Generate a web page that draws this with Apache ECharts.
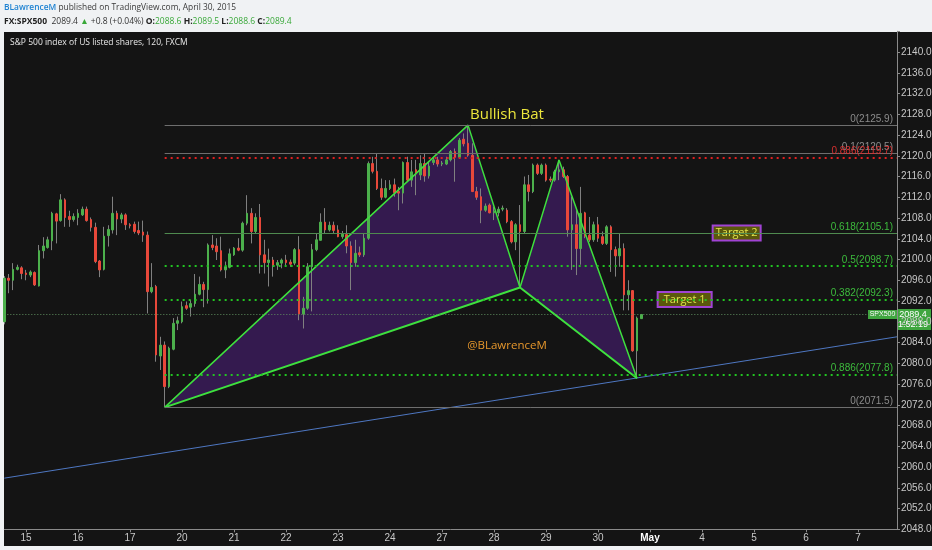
<!DOCTYPE html>
<html><head><meta charset="utf-8">
<script src="https://cdn.jsdelivr.net/npm/echarts@6/dist/echarts.min.js"></script>
<style>html,body{margin:0;padding:0;background:#f0f2f4;}#c{width:932px;height:550px;}</style>
</head><body><div id="c"></div>
<script>
// ---- data (2-hour bars, FX:SPX500) ----
const opens = [2088.0,2096.4,2096.0,2098.1,2098.4,2097.4,2097.0,2097.5,2094.9,2101.7,
2102.3,2103.6,2108.8,2107.5,2111.5,2108.3,2107.7,2108.1,2108.6,2109.7,
2107.7,2106.2,2099.7,2098.1,2104.6,2105.7,2108.9,2107.8,2108.6,2106.7,
2106.8,2105.6,2105.3,2104.7,2093.8,2094.8,2081.4,2083.5,2075.5,2082.7,
2087.7,2088.0,2091.1,2090.8,2091.5,2093.3,2095.2,2094.2,2102.8,2102.6,
2101.7,2098.0,2098.5,2100.9,2102.2,2101.8,2107.0,2108.9,2105.4,2108.1,
2100.9,2099.4,2099.9,2098.9,2099.3,2099.9,2099.5,2099.3,2101.9,2089.5,
2090.6,2098.6,2101.9,2103.7,2107.2,2105.7,2106.6,2105.7,2104.4,2104.8,
2102.6,2099.4,2101.3,2100.9,2104.1,2118.5,2117.0,2113.7,2112.0,2113.7,
2114.4,2113.1,2112.8,2118.7,2115.3,2117.3,2116.3,2118.5,2116.1,2118.7,
2119.2,2118.4,2118.4,2119.2,2120.8,2119.7,2123.2,2122.4,2120.1,2113.1,
2112.1,2109.5,2110.5,2109.0,2109.0,2109.7,2109.5,2107.3,2103.4,2106.7,
2105.4,2114.4,2113.1,2118.2,2116.6,2118.2,2115.5,2115.3,2116.9,2117.3,
2116.0,2105.7,2106.7,2102.1,2109.0,2104.7,2103.8,2106.7,2104.4,2103.1,
2106.3,2101.9,2100.7,2102.1,2093.2,2094.0,2082.4,2088.6];
const highs = [2096.8,2097.2,2099.3,2099.0,2098.7,2098.0,2097.9,2097.7,2102.8,2104.3,
2104.4,2109.2,2109.0,2112.6,2111.8,2109.4,2108.9,2109.7,2110.2,2110.2,
2108.1,2107.1,2099.9,2106.3,2106.6,2112.1,2109.4,2109.0,2108.9,2107.0,
2107.3,2107.3,2107.5,2105.4,2099.3,2095.1,2085.1,2084.2,2083.2,2088.7,
2089.0,2091.9,2091.9,2092.2,2097.2,2096.7,2095.7,2103.1,2104.7,2104.1,
2104.4,2099.6,2102.1,2102.4,2104.1,2107.3,2112.4,2109.9,2108.9,2110.7,
2103.8,2102.1,2100.5,2099.9,2100.2,2100.9,2100.0,2102.2,2104.5,2092.8,
2099.3,2103.0,2105.0,2108.9,2109.9,2107.3,2107.3,2106.6,2105.5,2106.6,
2103.5,2103.8,2102.5,2105.0,2118.9,2119.8,2120.5,2115.6,2115.3,2115.3,
2115.6,2114.0,2118.9,2119.8,2119.2,2119.2,2120.1,2120.5,2118.9,2119.8,
2119.8,2119.0,2119.8,2121.1,2121.4,2123.4,2124.3,2125.9,2122.4,2114.0,
2113.7,2110.8,2110.8,2110.2,2110.2,2110.4,2109.9,2107.6,2107.0,2110.5,
2116.0,2116.3,2118.5,2118.5,2118.5,2118.5,2116.0,2117.3,2119.2,2117.9,
2116.3,2112.1,2109.5,2114.0,2109.2,2108.2,2107.3,2108.2,2105.4,2106.6,
2106.6,2102.5,2105.0,2103.1,2096.0,2094.1,2089.0,2089.5];
const lows = [2087.5,2093.5,2094.1,2097.9,2096.2,2096.0,2096.6,2094.9,2094.8,2100.2,
2102.1,2101.8,2103.1,2107.3,2106.3,2106.3,2107.3,2106.6,2108.4,2107.3,
2105.4,2099.3,2096.6,2097.9,2102.5,2105.0,2104.7,2107.0,2105.7,2106.0,
2105.0,2104.7,2103.4,2089.6,2093.5,2080.3,2078.7,2071.6,2075.2,2082.5,
2086.4,2087.7,2090.3,2089.0,2090.9,2093.1,2090.8,2091.5,2101.8,2099.9,
2097.7,2096.4,2098.3,2100.7,2101.6,2101.5,2106.6,2103.1,2105.0,2097.3,
2097.3,2094.8,2096.7,2098.0,2098.3,2098.9,2098.6,2098.9,2088.3,2086.7,
2090.3,2090.0,2101.6,2103.7,2105.0,2105.4,2105.0,2104.3,2104.0,2101.2,
2094.1,2098.6,2100.5,2100.5,2103.8,2116.6,2113.4,2111.5,2111.8,2113.4,
2112.1,2109.5,2110.8,2115.0,2114.0,2112.4,2115.3,2115.0,2115.6,2118.2,
2117.9,2118.0,2118.2,2118.9,2115.0,2119.5,2121.8,2119.8,2113.0,2111.5,
2107.0,2109.2,2108.9,2107.6,2108.3,2109.3,2107.0,2103.1,2101.8,2094.6,
2105.0,2111.2,2112.8,2116.3,2116.3,2115.0,2114.9,2115.0,2115.3,2115.7,
2104.4,2098.0,2097.0,2099.0,2104.1,2103.4,2103.4,2103.4,2102.8,2102.8,
2097.6,2096.7,2098.6,2090.2,2090.2,2082.2,2077.1,2088.6];
const closes = [2096.4,2096.0,2098.1,2098.5,2097.3,2097.1,2097.6,2095.1,2101.7,2102.6,
2103.8,2108.9,2107.4,2111.5,2108.1,2107.7,2108.3,2108.9,2109.7,2107.5,
2106.2,2099.6,2098.0,2104.5,2105.8,2108.9,2107.8,2108.6,2106.7,2106.5,
2105.4,2105.1,2104.7,2093.8,2094.6,2081.6,2083.5,2075.5,2082.9,2087.7,
2088.2,2090.9,2090.6,2091.5,2093.3,2095.2,2094.2,2102.8,2102.3,2101.5,
2098.0,2098.6,2101.1,2102.2,2101.8,2107.0,2108.9,2105.4,2108.1,2100.9,
2099.4,2099.9,2098.9,2099.4,2099.9,2099.4,2099.1,2101.9,2089.5,2090.6,
2098.6,2101.9,2103.8,2107.2,2105.7,2106.6,2105.6,2104.4,2104.9,2102.6,
2099.4,2101.2,2100.9,2104.1,2118.5,2117.0,2113.7,2112.0,2113.7,2114.4,
2112.9,2112.8,2118.7,2115.3,2116.9,2116.5,2118.5,2116.1,2118.0,2119.2,
2118.4,2118.6,2119.2,2120.8,2119.7,2123.0,2122.3,2120.1,2113.1,2112.0,
2109.5,2110.3,2109.0,2109.3,2109.7,2109.9,2107.3,2103.4,2106.7,2105.4,
2114.4,2113.1,2118.2,2116.6,2118.2,2115.3,2115.3,2116.9,2117.3,2116.0,
2105.7,2106.7,2102.1,2108.9,2104.5,2103.8,2106.7,2104.1,2103.1,2106.3,
2101.9,2100.7,2102.1,2093.2,2094.0,2082.4,2088.7,2089.4];

const totalBars = 207;               // visible bar slots, incl. empty future
const dayLabels = ['15','16','17','20','21','22','23','24','27','28','29','30','May','4','5','6','7'];
const dayStartBars = [5,17,29,41,53,65,77,89,101,113,125,137,149,161,173,185,197];

const patternBars = [37,107,119,128,146];            // X A B C D
const patternPrices = [2071.5,2125.9,2094.6,2119.2,2077.1];
const triangles = [[0,1,2],[2,3,4]];

const fibPrices = [2125.9,2120.5,2119.7,2105.1,2098.7,2092.3,2077.8,2071.5];
const fibNames = ['0(2125.9)','0.1(2120.5)','0.886(2119.7)','0.618(2105.1)','0.5(2098.7)','0.382(2092.3)','0.886(2077.8)','0(2071.5)'];
const fibKinds = ['gray','gray','red','solidGreen','dotGreen','dotGreen','dotGreen','gray'];

const trendBars = [0, 206];
const trendPrices = [2057.85, 2085.1];
const lastPrice = 2089.4;

// ---- build ----
const kindStyle = {
  gray: {line:{color:'#6e6e6e',width:1,type:'solid'}, text:'#8c8c8c'},
  red: {line:{color:'#e02020',width:2,type:[2,4]}, text:'#d83030'},
  solidGreen: {line:{color:'#4f8a4f',width:1,type:'solid'}, text:'#3dbb3d'},
  dotGreen: {line:{color:'#22c422',width:2,type:[2,4]}, text:'#3dbb3d'}
};
const cats = Array.from({length: totalBars}, (_, i) => 'b' + i);
const labelAt = {};
dayStartBars.forEach((b, k) => { labelAt[b] = dayLabels[k]; });
const isDay = (i) => labelAt[i] !== undefined;
const wickData = opens.map((o, i) => [o, closes[i], lows[i], highs[i]]);
const bodyData = opens.map((o, i) => [o, closes[i], Math.min(o, closes[i]), Math.max(o, closes[i])]);

const fibMarks = fibPrices.map((p, k) => {
  const s = kindStyle[fibKinds[k]];
  return [
    {coord: [patternBars[0], p], lineStyle: s.line,
     label: {show: true, position: 'insideEndTop', distance: [4, 1], formatter: fibNames[k],
             color: s.text, fontSize: 10, fontFamily: 'Liberation Sans, Arial'}},
    {coord: [totalBars - 1, p]}
  ];
});

const chart = echarts.init(document.getElementById('c'), null, {width: 932, height: 550});
const option = {
  animation: false,
  backgroundColor: '#f0f2f4',
  grid: {left: 4.33, right: 35, top: 31.25, bottom: 20.75, outerBoundsMode: 'none'},
  xAxis: {
    type: 'category', boundaryGap: false, data: cats,
    axisLine: {lineStyle: {color: '#8a8a8a'}},
    axisTick: {interval: (i) => isDay(i), length: 3, lineStyle: {color: '#8a8a8a'}},
    axisLabel: {interval: (i) => isDay(i), margin: 4, color: '#c8c8c8', fontSize: 10,
      fontFamily: 'Liberation Sans, Arial',
      formatter: (v, i) => { const t = labelAt[i] || ''; return t === 'May' ? '{m|May}' : t; },
      rich: {m: {color: '#ffffff', fontWeight: 'bold', fontSize: 10, fontFamily: 'Liberation Sans, Arial'}}},
    splitLine: {show: false}
  },
  yAxis: {
    type: 'value', position: 'right', min: 2048, max: 2144, interval: 4,
    axisLine: {show: true, lineStyle: {color: '#8a8a8a'}},
    axisTick: {show: true, length: 3, lineStyle: {color: '#8a8a8a'}},
    axisLabel: {margin: 4, color: '#c8c8c8', fontSize: 10, fontFamily: 'Liberation Sans, Arial',
      formatter: (v) => v >= 2144 ? '' : v.toFixed(1)},
    splitLine: {show: false}
  },
  series: [
    {type: 'custom', name: 'pattern fill', z: 1, silent: true,
     data: triangles.map(t => [patternBars[t[0]], patternPrices[t[0]]]),
     renderItem: (params, api) => {
       const tri = triangles[params.dataIndex];
       const pts = tri.map(k => api.coord([patternBars[k], patternPrices[k]]));
       return {type: 'polygon', shape: {points: pts}, style: {fill: '#341a4f'}};
     }},
    {type: 'candlestick', name: 'wicks', z: 2, silent: true, barWidth: 1, data: wickData,
     itemStyle: {color: '#808080', color0: '#808080', borderColor: '#808080', borderColor0: '#808080', borderWidth: 1}},
    {type: 'candlestick', name: 'SPX500', z: 2, silent: true, barWidth: 2.4, data: bodyData,
     itemStyle: {color: '#4cb04c', color0: '#e8483a', borderColor: '#4cb04c', borderColor0: '#e8483a', borderWidth: 1}},
    {type: 'line', name: 'trend', z: 3, silent: true, symbol: 'none',
     data: trendBars.map((b, k) => [b, trendPrices[k]]),
     lineStyle: {color: '#4e77c2', width: 1},
     markLine: {silent: true, symbol: ['none', 'none'], animation: false,
       data: fibMarks.concat([{yAxis: lastPrice, lineStyle: {color: '#5f8f5f', width: 1, type: [1, 2]}, label: {show: false}}])}},
    {type: 'line', name: 'XABCD', z: 4, silent: true, symbol: 'none',
     data: patternBars.map((b, k) => [b, patternPrices[k]]),
     lineStyle: {color: '#3ee03e', width: 1.5}},
    {type: 'line', name: 'XBD', z: 4, silent: true, symbol: 'none',
     data: [0, 2, 4].map(k => [patternBars[k], patternPrices[k]]),
     lineStyle: {color: '#3ee03e', width: 2}}
  ],
  graphic: [
    {type: 'rect', z: -10, silent: true, shape: {x: 4, y: 32, width: 928, height: 514}, style: {fill: '#141414'}}
  ]
};
chart.setOption(option);

const px = (i, v) => chart.convertToPixel({gridIndex: 0}, [i, v]);
const axisX = px(totalBars - 1, lastPrice)[0];
const lastY = px(0, lastPrice)[1];
const bat = px(115.5, 2128.0);
const wm = px(116, 2083.3);
const t2 = px(169.2, fibPrices[3]);
const t1 = px(157.1, fibPrices[5]);
const F = 'Open Sans, Liberation Sans, Arial';
const tok = (fill, size, weight) => ({fill: fill, fontSize: size, fontFamily: F, fontWeight: weight || 'normal'});
const box = (c, w, label) => ({type: 'group', z: 50, silent: true, children: [
  {type: 'rect', shape: {x: c[0] - w / 2, y: c[1] - 7.5, width: w, height: 15},
   style: {fill: '#5a570c', stroke: '#a043d4', lineWidth: 2}},
  {type: 'text', x: c[0], y: c[1], style: {text: label, fill: '#e4e64c', font: '11px ' + F, align: 'center', verticalAlign: 'middle'}}
]});
chart.setOption({graphic: [
  {type: 'rect', z: -10, silent: true, shape: {x: 4, y: 32, width: 928, height: 514}, style: {fill: '#141414'}},
  {type: 'text', z: 50, silent: true, x: 4, y: 7.5, style: {verticalAlign: 'middle',
    text: '{u|BLawrenceM}{n| published on TradingView.com, April 30, 2015}',
    rich: {u: tok('#1f83d2', 8.4, 600), n: tok('#3a3a3a', 8.4)}}},
  {type: 'text', z: 50, silent: true, x: 4, y: 21.5, style: {verticalAlign: 'middle',
    text: '{k|FX:SPX500}{n|  2089.4 }{g|▲}{n| +0.8 (+0.04%) }{k|O:}{g|2088.6}{n| }{k|H:}{g|2089.5}{n| }{k|L:}{g|2088.6}{n| }{k|C:}{g|2089.4}',
    rich: {k: tok('#222222', 8.5, 'bold'), n: tok('#333333', 8.5), g: tok('#38a838', 8.5)}}},
  {type: 'text', z: 50, silent: true, x: 10, y: 42.5, style: {text: 'S&P 500 index of US listed shares, 120, FXCM',
    fill: '#e8e8e8', font: '8.5px ' + F, verticalAlign: 'middle'}},
  {type: 'text', z: 50, silent: true, x: bat[0], y: bat[1], style: {text: 'Bullish Bat', fill: '#ece63c',
    font: '15px ' + F, align: 'center', verticalAlign: 'middle'}},
  {type: 'text', z: 50, silent: true, x: wm[0], y: wm[1], style: {text: '@BLawrenceM', fill: '#e6972c',
    font: '11.5px ' + F, align: 'center', verticalAlign: 'middle'}},
  box(t2, 48, 'Target 2'),
  box(t1, 54, 'Target 1'),
  {type: 'group', z: 60, silent: true, children: [
    {type: 'rect', shape: {x: axisX - 29, y: lastY - 4.5, width: 29, height: 9}, style: {fill: '#3fa63f'}},
    {type: 'text', x: axisX - 14.5, y: lastY, style: {text: 'SPX500', fill: '#ffffff', font: '7px Liberation Sans, Arial', align: 'center', verticalAlign: 'middle'}},
    {type: 'rect', shape: {x: axisX, y: lastY - 5.5, width: 34, height: 21}, style: {fill: '#3fa63f'}},
    {type: 'text', x: axisX + 16, y: lastY, style: {text: '2089.4', fill: '#ffffff', font: '9px Liberation Sans, Arial', align: 'center', verticalAlign: 'middle'}},
    {type: 'text', x: axisX + 16, y: lastY + 10, style: {text: '1:52:19', fill: '#ffffff', font: '9px Liberation Sans, Arial', align: 'center', verticalAlign: 'middle'}}
  ]}
]});
</script></body></html>
